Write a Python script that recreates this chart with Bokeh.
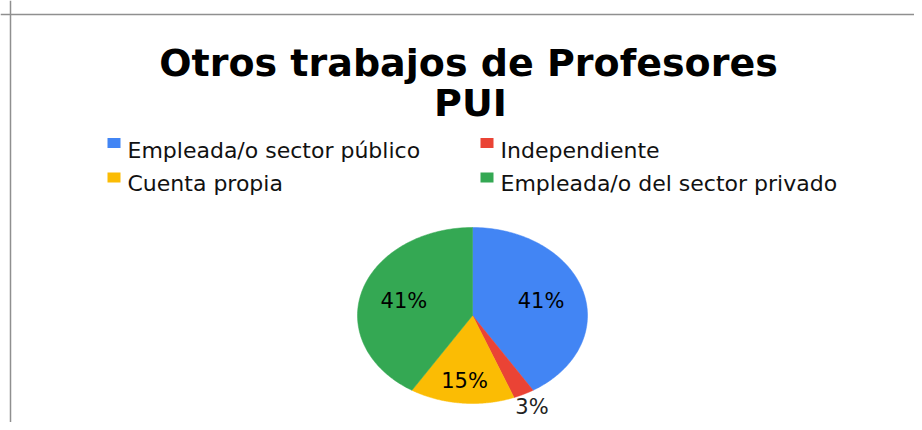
import numpy as np
from bokeh.plotting import figure
from bokeh.models import Range1d, Span
from bokeh.core.properties import value
from bokeh.embed import file_html
from bokeh.resources import INLINE

# ---- data ----
title_lines = ["Otros trabajos de Profesores", "PUI"]
categories = ["Empleada/o sector público", "Independiente", "Cuenta propia", "Empleada/o del sector privado"]
counts = [14, 1, 5, 14]
colors = ["#4285F4", "#EA4335", "#FBBC04", "#34A853"]
label_radius = [0.62, 1.16, 0.75, 0.62]
label_colors = ["#000000", "#222222", "#000000", "#000000"]

# ---- layout (image pixel coordinates) ----
W, H = 914, 422
cx, cy, rx, ry = 472, 315, 115, 88
FONT = value("DejaVu Sans")

p = figure(width=W, height=H, output_backend="svg", toolbar_location=None,
           x_range=Range1d(0, W), y_range=Range1d(H, 0),
           x_axis_location=None, y_axis_location=None, min_border=0,
           outline_line_color=None, background_fill_color="white")
p.grid.visible = False

# frame border (left and top visible)
p.add_layout(Span(location=10, dimension="height", line_color="#8f8f8f", line_width=1.5))
p.add_layout(Span(location=14, dimension="width", line_color="#8f8f8f", line_width=1.5))

# title
p.text(x=[468, 470], y=[62, 102], text=title_lines, text_font=FONT, text_font_style="bold",
       text_font_size="38px", text_align="center", text_baseline="alphabetic", text_color="black")

# pie slices (elliptical, clockwise from top)
vals = np.array(counts, dtype=float)
frac = vals / vals.sum()
cum = np.concatenate([[0], np.cumsum(frac)])
xs, ys, lx, ly, ltxt = [], [], [], [], []
for i in range(len(vals)):
    a0 = np.deg2rad(90 - 360 * cum[i])
    a1 = np.deg2rad(90 - 360 * cum[i + 1])
    t = np.linspace(a0, a1, 120)
    xs.append(np.concatenate([[cx], cx + rx * np.cos(t)]).tolist())
    ys.append(np.concatenate([[cy], cy - ry * np.sin(t)]).tolist())
    am = (a0 + a1) / 2
    lx.append(cx + label_radius[i] * rx * np.cos(am))
    ly.append(cy - label_radius[i] * ry * np.sin(am))
    ltxt.append(f"{round(100 * frac[i])}%")

p.patches(xs=xs, ys=ys, fill_color=colors, line_color=colors, line_width=0.5)
p.text(x=lx, y=ly, text=ltxt, text_color=label_colors, text_font=FONT, text_font_size="21px",
       text_align="center", text_baseline="middle")

# legend (2 columns x 2 rows)
leg_x_sq = [113.5, 486.5, 113.5, 486.5]
leg_y_sq = [142.5, 142.5, 177, 177]
leg_x_tx = [127, 500, 127, 500]
leg_y_tx = [150, 150, 183, 183]
p.rect(x=leg_x_sq, y=leg_y_sq, width=13, height=10, fill_color=colors, line_color=None)
p.text(x=leg_x_tx, y=leg_y_tx, text=categories, text_font=FONT, text_font_size="22px",
       text_align="left", text_baseline="alphabetic", text_color="#111111")

open("out.html", "w").write(file_html(p, INLINE))
